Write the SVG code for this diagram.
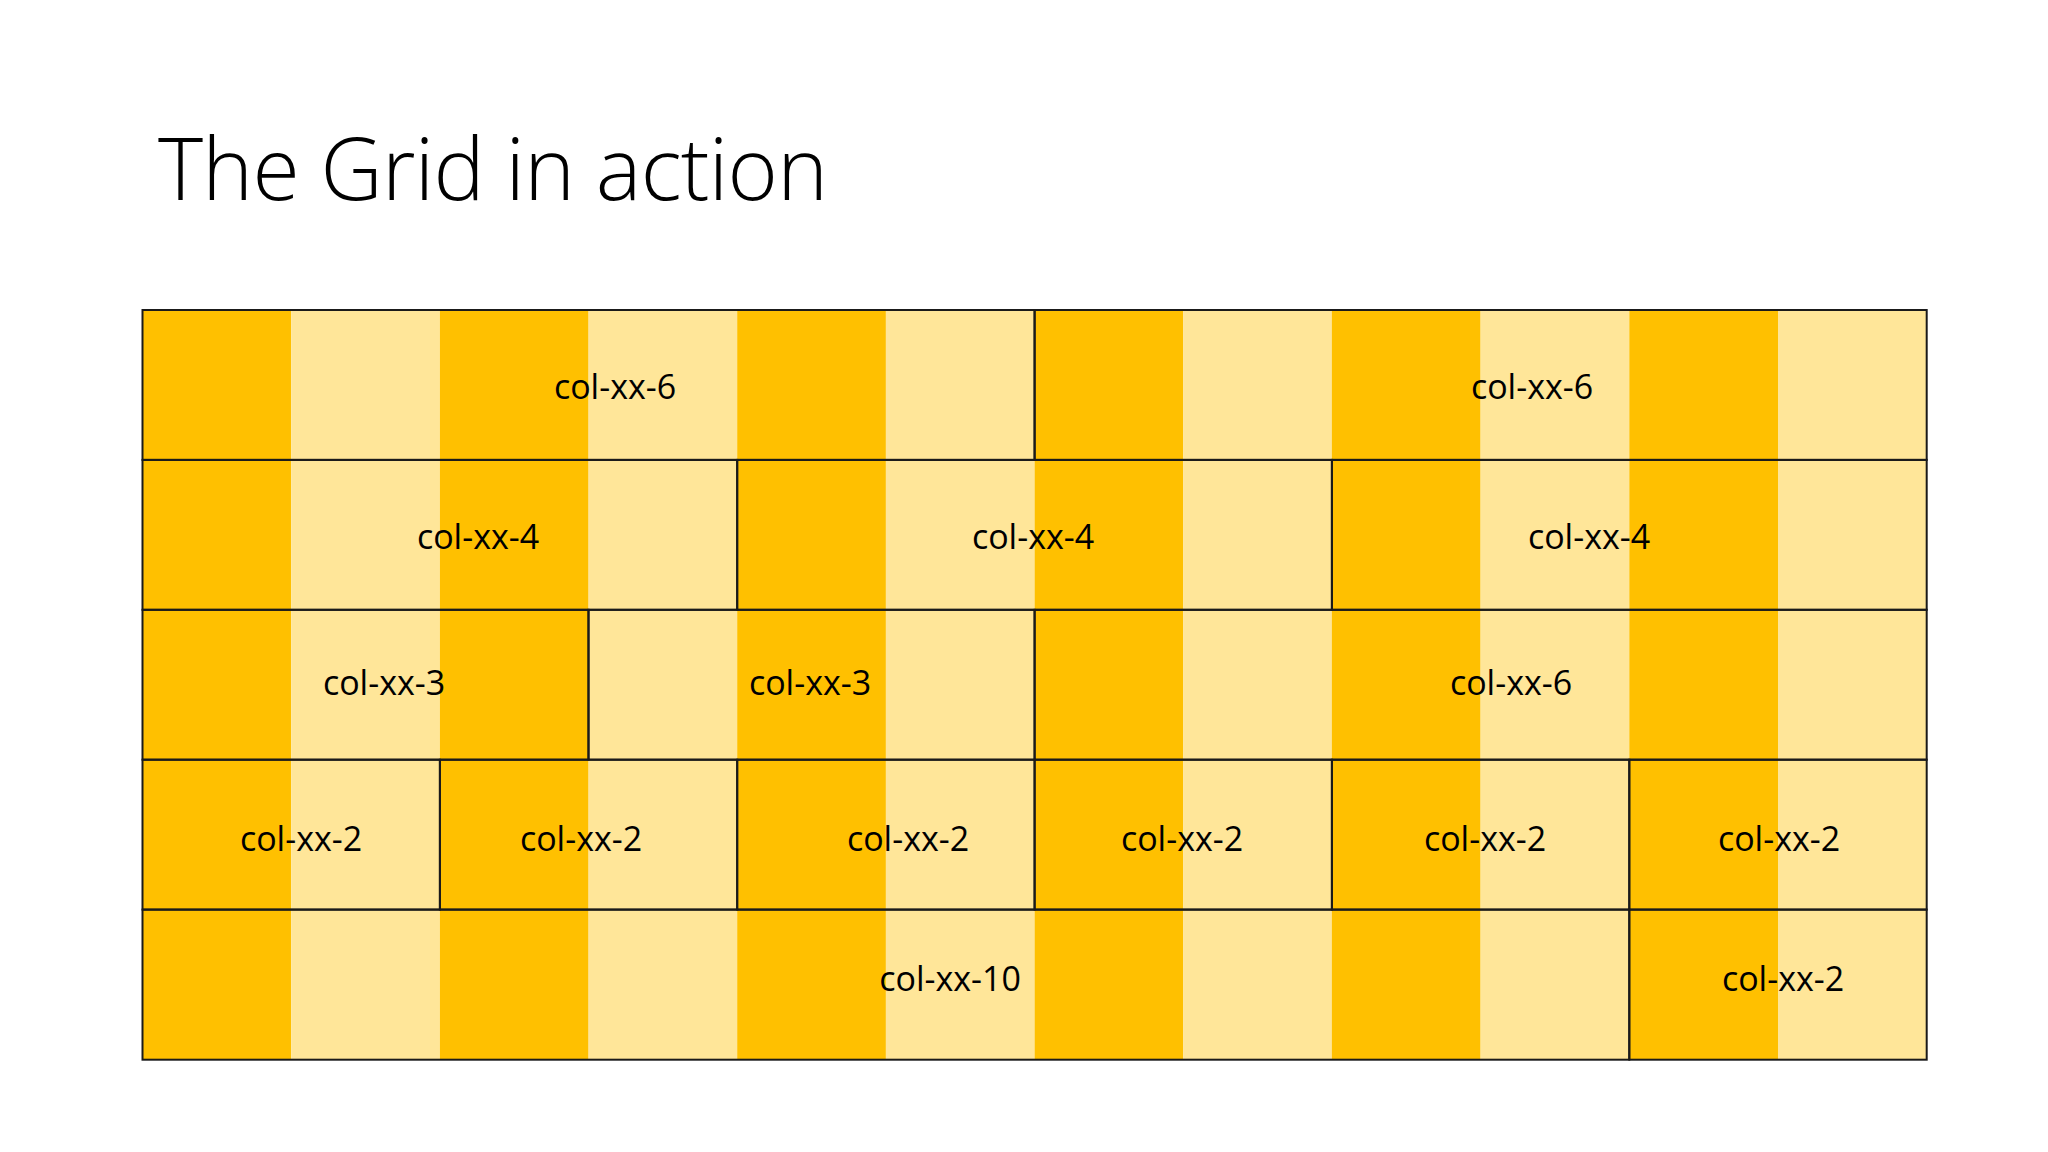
<svg xmlns="http://www.w3.org/2000/svg" width="2048" height="1152" viewBox="0 0 2048 1152">
<style>
.d{fill:#FFC000}.l{fill:#FFE699}
.c{fill:none;stroke:#1a1a1a;stroke-width:2}
.t{font-family:"Open Sans","Liberation Sans",sans-serif;font-size:34px;fill:#000;text-anchor:middle;dominant-baseline:central}
</style>
<rect width="2048" height="1152" fill="#fff"/>
<text x="158" y="200" font-family="'Open Sans','Liberation Sans',sans-serif" font-weight="300" font-size="86" textLength="670" fill="#000">The Grid in action</text>
<g id="background">
<rect class="d" x="142.5" y="310" width="148.7" height="749.7"/>
<rect class="l" x="291.2" y="310" width="148.7" height="749.7"/>
<rect class="d" x="439.9" y="310" width="148.7" height="749.7"/>
<rect class="l" x="588.5" y="310" width="148.7" height="749.7"/>
<rect class="d" x="737.2" y="310" width="148.7" height="749.7"/>
<rect class="l" x="885.9" y="310" width="148.7" height="749.7"/>
<rect class="d" x="1034.6" y="310" width="148.7" height="749.7"/>
<rect class="l" x="1183.3" y="310" width="148.7" height="749.7"/>
<rect class="d" x="1331.9" y="310" width="148.7" height="749.7"/>
<rect class="l" x="1480.6" y="310" width="148.7" height="749.7"/>
<rect class="d" x="1629.3" y="310" width="148.7" height="749.7"/>
<rect class="l" x="1778" y="310" width="148.7" height="749.7"/>
</g>
<g id="row1">
<rect class="c" x="142.5" y="310" width="892.1" height="149.9"/><text class="t" x="615" y="386">col-xx-6</text>
<rect class="c" x="1034.6" y="310" width="892.1" height="149.9"/><text class="t" x="1532" y="386">col-xx-6</text>
</g>
<g id="row2">
<rect class="c" x="142.5" y="459.9" width="594.7" height="149.9"/><text class="t" x="478" y="536">col-xx-4</text>
<rect class="c" x="737.2" y="459.9" width="594.7" height="149.9"/><text class="t" x="1033" y="536">col-xx-4</text>
<rect class="c" x="1331.9" y="459.9" width="594.8" height="149.9"/><text class="t" x="1589" y="536">col-xx-4</text>
</g>
<g id="row3">
<rect class="c" x="142.5" y="609.8" width="446" height="149.9"/><text class="t" x="384" y="682">col-xx-3</text>
<rect class="c" x="588.5" y="609.8" width="446.1" height="149.9"/><text class="t" x="810" y="682">col-xx-3</text>
<rect class="c" x="1034.6" y="609.8" width="892.1" height="149.9"/><text class="t" x="1511" y="682">col-xx-6</text>
</g>
<g id="row4">
<rect class="c" x="142.5" y="759.7" width="297.4" height="149.9"/><text class="t" x="301" y="838">col-xx-2</text>
<rect class="c" x="439.9" y="759.7" width="297.3" height="149.9"/><text class="t" x="581" y="838">col-xx-2</text>
<rect class="c" x="737.2" y="759.7" width="297.4" height="149.9"/><text class="t" x="908" y="838">col-xx-2</text>
<rect class="c" x="1034.6" y="759.7" width="297.3" height="149.9"/><text class="t" x="1182" y="838">col-xx-2</text>
<rect class="c" x="1331.9" y="759.7" width="297.4" height="149.9"/><text class="t" x="1485" y="838">col-xx-2</text>
<rect class="c" x="1629.3" y="759.7" width="297.4" height="149.9"/><text class="t" x="1779" y="838">col-xx-2</text>
</g>
<g id="row5">
<rect class="c" x="142.5" y="909.6" width="1486.8" height="150.1"/><text class="t" x="950" y="978">col-xx-10</text>
<rect class="c" x="1629.3" y="909.6" width="297.4" height="150.1"/><text class="t" x="1783" y="978">col-xx-2</text>
</g>
</svg>
